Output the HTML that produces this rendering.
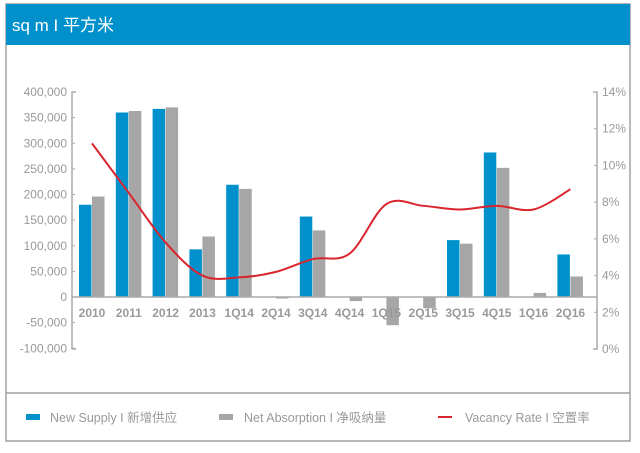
<!DOCTYPE html>
<html><head><meta charset="utf-8"><style>
body{margin:0;background:#fff;width:640px;height:448px;overflow:hidden;font-family:"Liberation Sans","Noto Sans CJK SC",sans-serif}
</style></head><body>
<svg width="640" height="448" xmlns="http://www.w3.org/2000/svg" id="svg" font-family="Liberation Sans, Noto Sans CJK SC, sans-serif">
<rect x="6" y="4" width="624" height="437" fill="#fff" stroke="#a0a0a0" stroke-width="1.5"/>
<rect x="6" y="4" width="624" height="41" fill="#0091cd"/>
<text x="12" y="31" font-size="17" fill="#fff">sq m I 平方米</text>
<line x1="6" y1="393" x2="630" y2="393" stroke="#a0a0a0" stroke-width="1.5"/>
<g>
<rect x="26" y="414" width="14" height="6" fill="#0091cd"/>
<text x="50" y="422" font-size="12.5" fill="#999">New Supply I 新增供应</text>
<rect x="219" y="414" width="14" height="6" fill="#a6a6a6"/>
<text x="244" y="422" font-size="12.5" fill="#999">Net Absorption  I 净吸纳量</text>
<line x1="438" y1="417" x2="452" y2="417" stroke="#d9262e" stroke-width="2"/>
<text x="465" y="422" font-size="12.5" fill="#999">Vacancy Rate I 空置率</text>
</g>
<g id="plot"></g>
</svg>
<script>
const categories=["2010","2011","2012","2013","1Q14","2Q14","3Q14","4Q14","1Q15","2Q15","3Q15","4Q15","1Q16","2Q16"];
const newSupply=[180000,360000,367000,93000,219000,0,157000,0,0,0,111000,282000,0,83000];
const netAbsorption=[196000,363000,370000,118000,211000,-3000,130000,-8000,-55000,-22000,104000,252000,8000,40000];
const vacancyRate=[11.2,8.5,5.8,4.0,3.9,4.2,4.9,5.2,7.9,7.8,7.6,7.8,7.6,8.7];
const leftTicks=[400000,350000,300000,250000,200000,150000,100000,50000,0,-50000,-100000];
const rightTicks=[14,12,10,8,6,4,2,0];
const NS="http://www.w3.org/2000/svg",g=document.getElementById('plot');
const yL=v=>297-v*(205/400000);
const yR=v=>349-v*(257/14);
const xC=i=>92+i*36.8;
function mk(t,a,p){const e=document.createElementNS(NS,t);for(const k in a)e.setAttribute(k,a[k]);(p||g).appendChild(e);return e;}
let ax=mk('path',{d:'M76 92 H72 V349 H76',fill:'none',stroke:'#aaa','stroke-width':1.5});


let ax2=mk('path',{d:'M593 92 H597 V349 H593',fill:'none',stroke:'#aaa','stroke-width':1.5});


leftTicks.forEach(v=>{const y=yL(v);
 const t=mk('text',{x:67,y:y+4,'text-anchor':'end','font-size':12,fill:'#999'});t.textContent=v.toLocaleString('en-US');
 
 
 const l=mk('line',{x1:72,x2:75,y1:y,y2:y,stroke:'#aaa'});
 
 });
rightTicks.forEach(v=>{const y=yR(v);
 const t=mk('text',{x:602,y:y+4,'font-size':12,fill:'#999'});t.textContent=v+'%';
 
 
 const l=mk('line',{x1:594,x2:597,y1:y,y2:y,stroke:'#aaa'});
 
 });
categories.forEach((c,i)=>{const x=xC(i);
 if(newSupply[i]){const v=newSupply[i];const r=mk('rect',{x:x-13,y:Math.min(yL(v),yL(0)),width:12.5,height:Math.abs(yL(v)-yL(0)),fill:'#0091cd'});
 
 }
 if(netAbsorption[i]){const v=netAbsorption[i];const r=mk('rect',{x:x,y:Math.min(yL(v),yL(0)),width:12.5,height:Math.abs(yL(v)-yL(0)),fill:'#a6a6a6'});
 
 }
});
let zl=mk('line',{x1:72,x2:597,y1:yL(0),y2:yL(0),stroke:'#aaa','stroke-width':1.5});


categories.forEach((c,i)=>{const t=mk('text',{x:xC(i),y:317,'text-anchor':'middle','font-size':12,'font-weight':'bold',fill:'#999'});t.textContent=c;
 
 });
const pts=vacancyRate.map((v,i)=>[xC(i),yR(v)]);
let d='M'+pts[0][0]+' '+pts[0][1];
for(let i=0;i<pts.length-1;i++){const p0=pts[Math.max(0,i-1)],p1=pts[i],p2=pts[i+1],p3=pts[Math.min(pts.length-1,i+2)];
 d+=` C${p1[0]+(p2[0]-p0[0])/6} ${p1[1]+(p2[1]-p0[1])/6} ${p2[0]-(p3[0]-p1[0])/6} ${p2[1]-(p3[1]-p1[1])/6} ${p2[0]} ${p2[1]}`;}
let ln=mk('path',{d:d,fill:'none',stroke:'#d9262e','stroke-width':2});


</script>
</body></html>
